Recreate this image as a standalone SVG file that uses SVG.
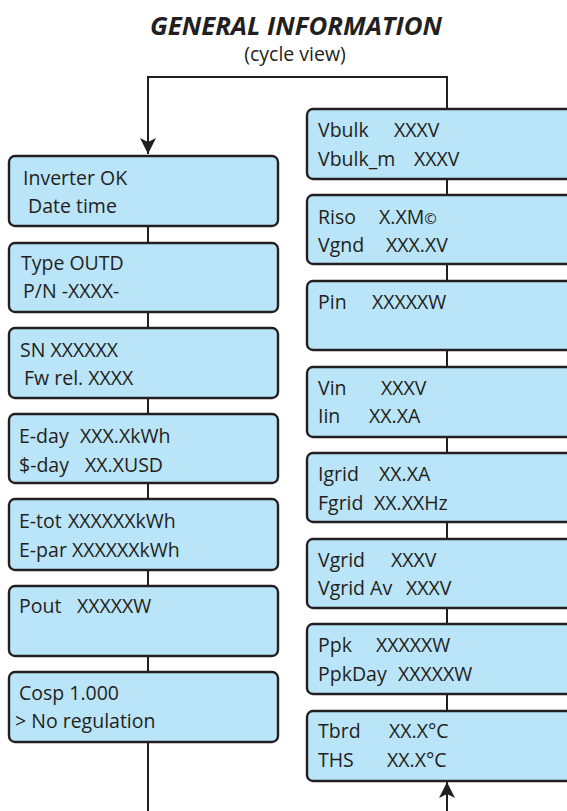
<svg xmlns="http://www.w3.org/2000/svg" width="567" height="811" viewBox="0 0 567 811">
<defs>
<style>
.box{fill:#BAE4F8;stroke:#231F20;stroke-width:2.4}
.t{font-family:"Open Sans","Liberation Sans",sans-serif;font-size:19.5px;fill:#231F20}
.title{font-family:"Open Sans","Liberation Sans",sans-serif;font-size:25px;font-weight:bold;font-style:italic;fill:#231F20}
.sub{font-family:"Open Sans","Liberation Sans",sans-serif;font-size:19.5px;fill:#231F20}
.c{fill:none;stroke:#231F20;stroke-width:2}
</style>
<marker id="arr" markerUnits="userSpaceOnUse" viewBox="0 0 16 16" refX="16" refY="8" markerWidth="16" markerHeight="16" orient="auto">
<path d="M0,0 L16,8 L0,16 L4,8 z" fill="#231F20"/>
</marker>
</defs>
<rect width="567" height="811" fill="#FFFFFF"/>
<text class="title" x="296" y="35" text-anchor="middle" textLength="292" lengthAdjust="spacingAndGlyphs">GENERAL INFORMATION</text>
<text class="sub" x="295" y="61" text-anchor="middle">(cycle view)</text>

<g id="connectors">
<path class="c" d="M447,109 V77 H148 V154" marker-end="url(#arr)"/>
<path class="c" d="M148,226 V243 M148,312 V328 M148,398 V414 M148,483 V499 M148,570 V586 M148,656 V672 M148,742 V811"/>
<path class="c" d="M447,179 V195 M447,264 V281 M447,350 V367 M447,437 V453 M447,522 V539 M447,608 V624 M447,694 V711"/>
<path class="c" d="M447,811 V782" marker-end="url(#arr)"/>
</g>

<g id="inverter-ok"><rect class="box" x="9" y="156" width="269" height="70" rx="6"/>
<text class="t" x="23" y="185">Inverter OK</text><text class="t" x="28" y="213">Date time</text></g>
<g id="type-outd"><rect class="box" x="9" y="243" width="269" height="69" rx="6"/>
<text class="t" x="21" y="270">Type OUTD</text><text class="t" x="23" y="298">P/N -XXXX-</text></g>
<g id="sn"><rect class="box" x="9" y="328" width="269" height="70" rx="6"/>
<text class="t" x="20" y="357">SN XXXXXX</text><text class="t" x="24" y="385">Fw rel. XXXX</text></g>
<g id="e-day"><rect class="box" x="9" y="414" width="269" height="69" rx="6"/>
<text class="t" x="19" y="443">E-day<tspan x="80">XXX.XkWh</tspan></text><text class="t" x="19" y="472">$-day<tspan x="85">XX.XUSD</tspan></text></g>
<g id="e-tot"><rect class="box" x="9" y="499" width="269" height="71" rx="6"/>
<text class="t" x="19" y="528">E-tot<tspan x="68">XXXXXXkWh</tspan></text><text class="t" x="19" y="557">E-par<tspan x="72">XXXXXXkWh</tspan></text></g>
<g id="pout"><rect class="box" x="9" y="586" width="269" height="70" rx="6"/>
<text class="t" x="19" y="613">Pout<tspan x="77">XXXXXW</tspan></text></g>
<g id="cosp"><rect class="box" x="9" y="672" width="269" height="70" rx="6"/>
<text class="t" x="19" y="700">Cosp 1.000</text><text class="t" x="15" y="728">&gt; No regulation</text></g>

<g id="vbulk"><rect class="box" x="307" y="109" width="272" height="70" rx="6"/>
<text class="t" x="318" y="137">Vbulk<tspan x="394">XXXV</tspan></text><text class="t" x="318" y="166">Vbulk_m<tspan x="414">XXXV</tspan></text></g>
<g id="riso"><rect class="box" x="307" y="195" width="272" height="69" rx="6"/>
<text class="t" x="318" y="224">Riso<tspan x="379">X.XM<tspan font-size="15px">©</tspan></tspan></text><text class="t" x="318" y="252">Vgnd<tspan x="386">XXX.XV</tspan></text></g>
<g id="pin"><rect class="box" x="307" y="281" width="272" height="69" rx="6"/>
<text class="t" x="318" y="309">Pin<tspan x="372">XXXXXW</tspan></text></g>
<g id="vin"><rect class="box" x="307" y="367" width="272" height="70" rx="6"/>
<text class="t" x="318" y="395">Vin<tspan x="381">XXXV</tspan></text><text class="t" x="318" y="423">Iin<tspan x="369">XX.XA</tspan></text></g>
<g id="igrid"><rect class="box" x="307" y="453" width="272" height="69" rx="6"/>
<text class="t" x="318" y="481">Igrid<tspan x="379">XX.XA</tspan></text><text class="t" x="318" y="510">Fgrid<tspan x="374">XX.XXHz</tspan></text></g>
<g id="vgrid"><rect class="box" x="307" y="539" width="272" height="69" rx="6"/>
<text class="t" x="318" y="567">Vgrid<tspan x="391">XXXV</tspan></text><text class="t" x="318" y="595">Vgrid Av<tspan x="406">XXXV</tspan></text></g>
<g id="ppk"><rect class="box" x="307" y="624" width="272" height="70" rx="6"/>
<text class="t" x="318" y="652">Ppk<tspan x="376">XXXXXW</tspan></text><text class="t" x="318" y="681">PpkDay<tspan x="398">XXXXXW</tspan></text></g>
<g id="tbrd"><rect class="box" x="307" y="711" width="272" height="70" rx="6"/>
<text class="t" x="318" y="738">Tbrd<tspan x="389">XX.X°C</tspan></text><text class="t" x="318" y="767">THS<tspan x="387">XX.X°C</tspan></text></g>
</svg>
